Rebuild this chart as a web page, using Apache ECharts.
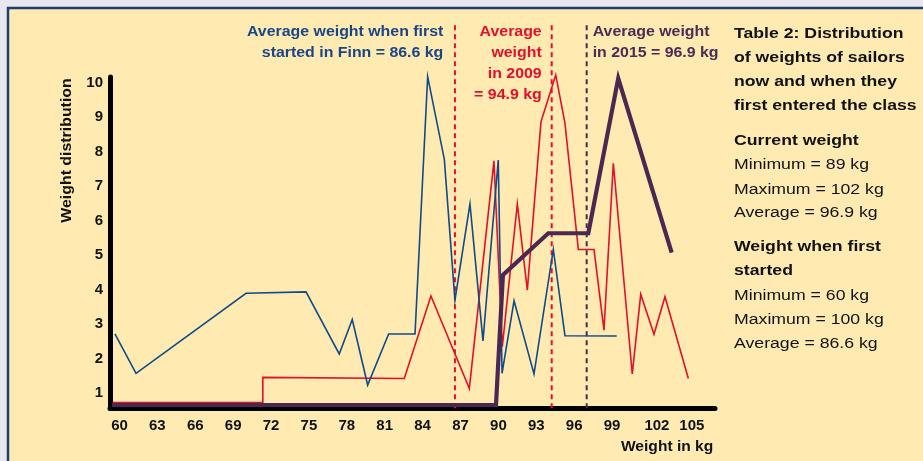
<!DOCTYPE html>
<html>
<head>
<meta charset="utf-8">
<script src="https://cdn.jsdelivr.net/npm/echarts@6/dist/echarts.min.js"></script>
<style>
  html, body { margin: 0; padding: 0; background: #E8E7EF; }
  #chart { width: 923px; height: 461px; }
</style>
</head>
<body>
<div id="chart"></div>
<script>
// ---- Data ----
// Weight when first started (blue)
const firstWeights = [59.64, 61.31, 70.02, 74.77, 77.40, 78.43, 79.65, 81.31, 83.40, 84.40, 85.72, 86.56, 87.75, 88.78, 89.99, 90.29, 91.24, 92.82, 94.35, 95.27, 99.37];
const firstCounts  = [2.72, 1.58, 3.90, 3.94, 2.14, 3.14, 1.24, 2.72, 2.72, 10.18, 7.78, 3.70, 6.49, 2.52, 7.76, 1.58, 3.68, 1.56, 5.17, 2.67, 2.66];
// Weights in 2009 (red)
const w2009Weights = [59.46, 71.35, 71.35, 82.55, 84.66, 87.70, 89.65, 90.31, 91.50, 92.29, 93.37, 94.54, 95.27, 96.33, 97.57, 98.36, 99.10, 100.60, 101.27, 102.32, 103.19, 105.04];
const w2009Counts  = [0.73, 0.73, 1.46, 1.43, 3.82, 1.14, 7.74, 2.35, 6.49, 3.99, 8.87, 10.23, 8.83, 5.17, 5.17, 2.83, 7.67, 1.56, 3.87, 2.71, 3.80, 1.43];
// Weights in 2015 (purple)
const w2015Weights = [59.41, 89.81, 90.36, 93.95, 97.12, 99.49, 103.72];
const w2015Counts  = [0.66, 0.66, 4.43, 5.64, 5.64, 10.13, 5.08];
// Average marker lines (positions as drawn)
const avgFirst = 86.56, avg2009 = 94.22, avg2015 = 96.99;
// Axis extents
const xMin = 59.25, xMax = 107.15, xStep = 3;
const yMin = 0.565, yMax = 10.17, yStep = 1;
const markerTop = 11.68;

const pairs = (xs, ys) => xs.map((x, i) => [x, ys[i]]);

const FONT = '"Liberation Sans", Arial, Helvetica, sans-serif';
const BLUE = '#114A8B', RED = '#E3102C', PURPLE = '#4A2852';
const BLUE_T = '#1A4586', PURPLE_T = '#4A2C55';

function txt(text, x, y, o) {
  o = o || {};
  return {
    type: 'text', x: x, y: y, z: 100,
    scaleX: o.sx || 1, rotation: o.rot || 0,
    style: {
      text: text,
      fill: o.color || '#111',
      font: (o.bold ? 'bold ' : '') + (o.size || 14) + 'px ' + FONT,
      align: o.align || 'left', textAlign: o.align || 'left',
      verticalAlign: 'middle', textVerticalAlign: 'middle'
    }
  };
}

const annSX = 1.135, annSize = 14;
const panelSX = 1.14, panelSize = 15.5;
const graphics = [
  { type: 'rect', z: -100, shape: { x: 8, y: 8, width: 1000, height: 1000 },
    style: { fill: '#FFEBB1', stroke: '#1D3F6E', lineWidth: 2.5 } },
  // annotations
  txt('Average weight when first', 443.3, 31.7, { bold: true, size: annSize, sx: annSX, align: 'right', color: BLUE_T }),
  txt('started in Finn = 86.6 kg', 443.3, 52.7, { bold: true, size: annSize, sx: annSX, align: 'right', color: BLUE_T }),
  txt('Average', 541.7, 31.7, { bold: true, size: annSize, sx: annSX, align: 'right', color: RED }),
  txt('weight', 541.7, 52.7, { bold: true, size: annSize, sx: annSX, align: 'right', color: RED }),
  txt('in 2009', 541.7, 74.2, { bold: true, size: annSize, sx: annSX, align: 'right', color: RED }),
  txt('= 94.9 kg', 541.7, 95.5, { bold: true, size: annSize, sx: annSX, align: 'right', color: RED }),
  txt('Average weight', 592.7, 31.7, { bold: true, size: annSize, sx: annSX, color: PURPLE_T }),
  txt('in 2015 = 96.9 kg', 592.7, 52.7, { bold: true, size: annSize, sx: annSX, color: PURPLE_T }),
  // axis names
  txt('Weight in kg', 713.3, 447, { bold: true, size: 14.5, sx: 1.075, align: 'right' }),
  txt('Weight distribution', 67, 150.5, { bold: true, size: 14, sx: 1.135, align: 'center', rot: Math.PI / 2 }),
  // right panel
  txt('Table 2: Distribution', 734, 33.6, { bold: true, size: panelSize, sx: panelSX }),
  txt('of weights of sailors', 734, 57.6, { bold: true, size: panelSize, sx: panelSX }),
  txt('now and when they', 734, 81.6, { bold: true, size: panelSize, sx: panelSX }),
  txt('first entered the class', 734, 105.3, { bold: true, size: panelSize, sx: panelSX }),
  txt('Current weight', 734, 141, { bold: true, size: panelSize, sx: panelSX }),
  txt('Minimum = 89 kg', 734, 165, { size: panelSize, sx: panelSX }),
  txt('Maximum = 102 kg', 734, 189.3, { size: panelSize, sx: panelSX }),
  txt('Average = 96.9 kg', 734, 212.6, { size: panelSize, sx: panelSX }),
  txt('Weight when first', 734, 246.6, { bold: true, size: panelSize, sx: panelSX }),
  txt('started', 734, 271, { bold: true, size: panelSize, sx: panelSX }),
  txt('Minimum = 60 kg', 734, 295.3, { size: panelSize, sx: panelSX }),
  txt('Maximum = 100 kg', 734, 319.3, { size: panelSize, sx: panelSX }),
  txt('Average = 86.6 kg', 734, 343.3, { size: panelSize, sx: panelSX })
];

const labelStyle = { fontFamily: FONT, fontWeight: 'bold', fontSize: 15, color: '#111' };

const chart = echarts.init(document.getElementById('chart'), null, { renderer: 'canvas' });
chart.setOption({
  animation: false,
  backgroundColor: 'transparent',
  grid: { left: 110, right: 208, top: 77, bottom: 52.7, containLabel: false },
  xAxis: {
    type: 'value', min: xMin, max: xMax, minInterval: xStep, maxInterval: xStep,
    axisLine: { show: true, lineStyle: { color: '#000', width: 5 } },
    axisTick: { show: false }, splitLine: { show: false },
    axisLabel: Object.assign({}, labelStyle, {
      margin: 10, showMinLabel: false, showMaxLabel: false,
      formatter: function (v) {
        if (Math.abs(v - Math.round(v)) > 1e-6 || Math.round(v) % 3 !== 0) return '';
        if (Math.round(v) === 102) return '{a|102}';
        if (Math.round(v) === 105) return '{b|105}';
        return String(Math.round(v));
      },
      rich: {
        a: Object.assign({}, labelStyle, { padding: [0, 0, 0, 14] }),
        b: Object.assign({}, labelStyle, { padding: [0, 0, 0, 8] })
      }
    })
  },
  yAxis: {
    type: 'value', min: yMin, max: yMax, minInterval: yStep, maxInterval: yStep,
    axisLine: { show: true, lineStyle: { color: '#000', width: 5 } },
    axisTick: { show: false }, splitLine: { show: false },
    axisLabel: Object.assign({}, labelStyle, {
      margin: 7, showMinLabel: false, showMaxLabel: false,
      formatter: function (v) {
        return Math.abs(v - Math.round(v)) < 1e-6 ? String(Math.round(v)) : '';
      }
    })
  },
  graphic: graphics,
  series: [
    { type: 'line', name: 'avgFirst', data: [[avgFirst, yMin], [avgFirst, markerTop]], clip: false,
      symbol: 'none', silent: true, z: 1, lineStyle: { color: RED, width: 2, type: [5, 4] } },
    { type: 'line', name: 'avg2009', data: [[avg2009, yMin], [avg2009, markerTop]], clip: false,
      symbol: 'none', silent: true, z: 1, lineStyle: { color: RED, width: 2, type: [5, 4] } },
    { type: 'line', name: 'avg2015', data: [[avg2015, yMin], [avg2015, markerTop]], clip: false,
      symbol: 'none', silent: true, z: 1, lineStyle: { color: PURPLE, width: 2, type: [5, 4] } },
    { type: 'line', name: '2009', data: pairs(w2009Weights, w2009Counts), clip: false,
      symbol: 'none', z: 3, lineStyle: { color: RED, width: 1.6, join: 'miter' } },
    { type: 'line', name: 'First started', data: pairs(firstWeights, firstCounts), clip: false,
      symbol: 'none', z: 4, lineStyle: { color: BLUE, width: 1.6, join: 'miter' } },
    { type: 'line', name: '2015', data: pairs(w2015Weights, w2015Counts), clip: false,
      symbol: 'none', z: 5, lineStyle: { color: PURPLE, width: 4.2, join: 'miter' } }
  ]
});
</script>
</body>
</html>
